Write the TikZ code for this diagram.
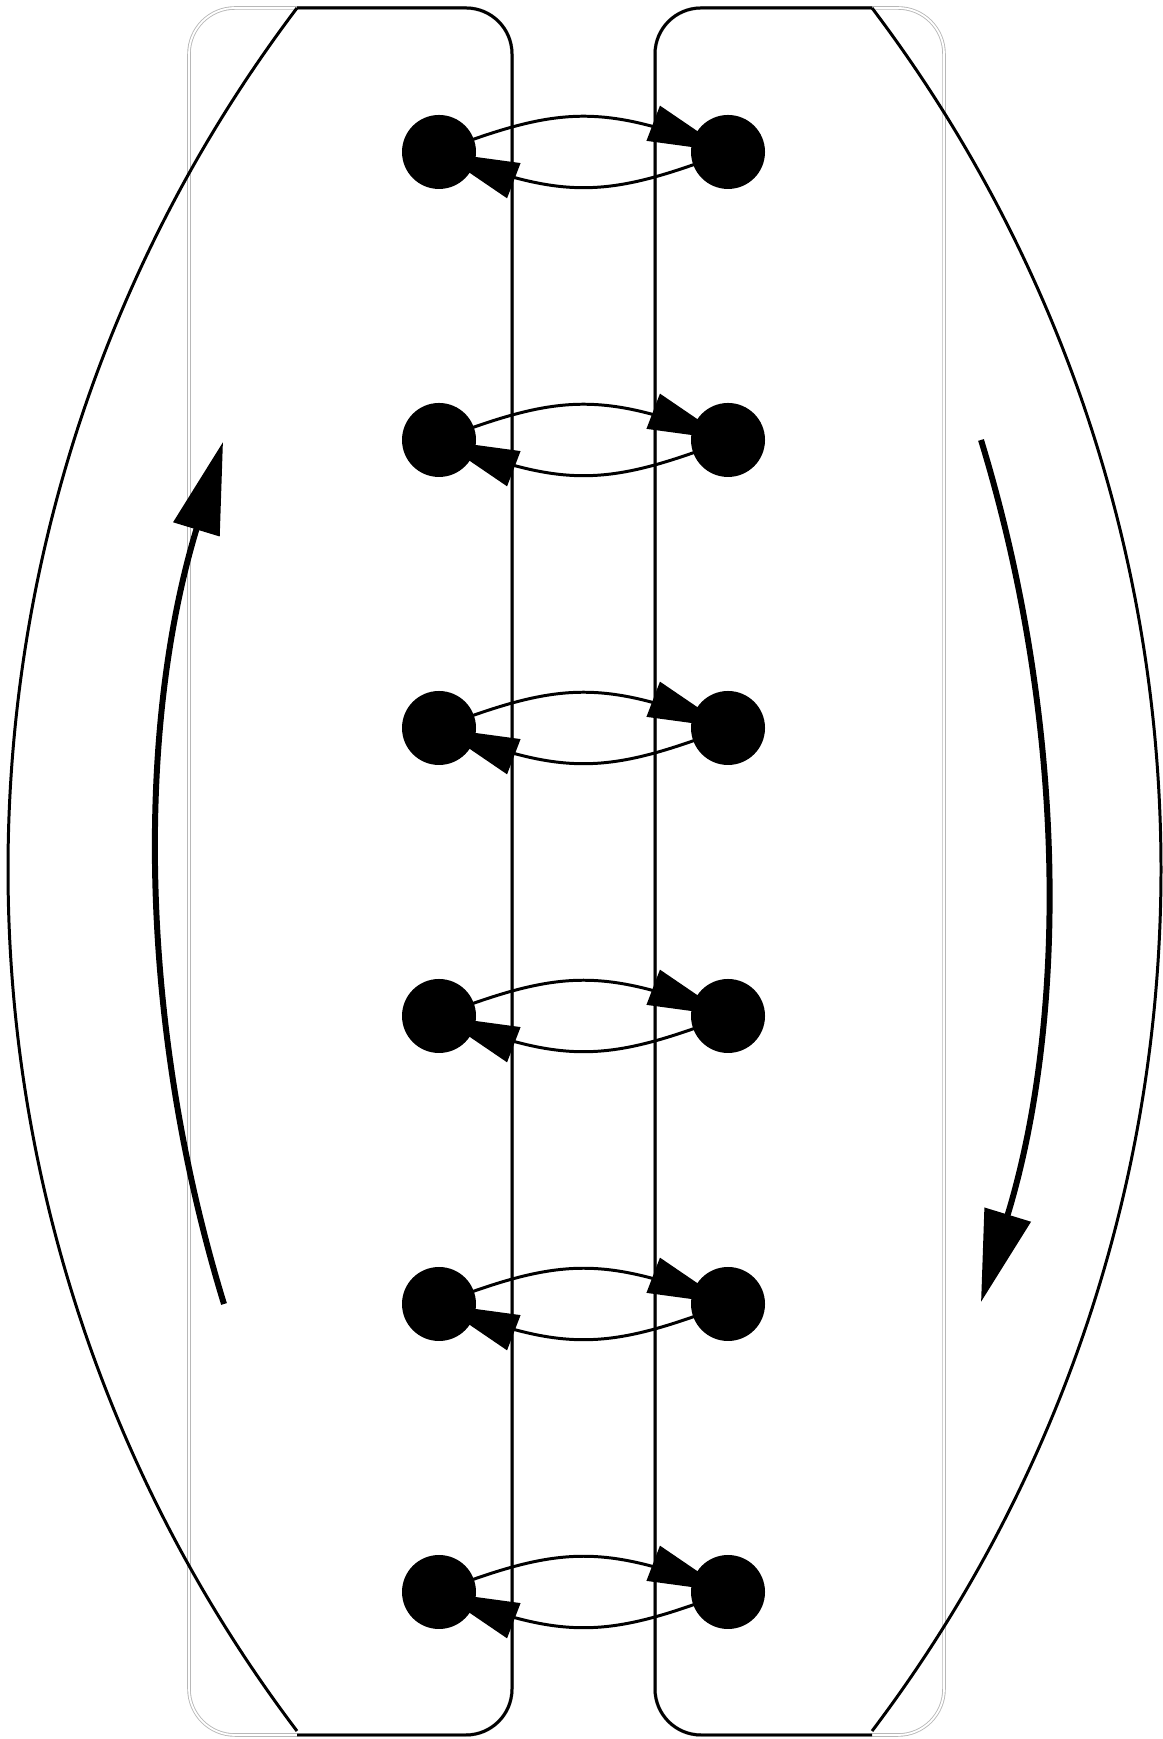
\documentclass[tikz,border=0pt]{standalone}
\usetikzlibrary{arrows.meta,decorations.markings}
\definecolor{rimgray}{gray}{0.72}

\tikzset{
  dot/.style={circle,fill=black,inner sep=0pt,minimum size=7.4mm},
  hop/.style={line width=0.85pt,looseness=1.18,postaction=decorate,
    decoration={markings,mark=at position 1 with {\arrow{Triangle[length=22.8pt,width=10.5pt]}}}},
  spin/.style={-{Triangle[length=26pt,width=13.4pt]},line width=1.7pt,looseness=0.88},
  rim/.style={draw=rimgray,double,line width=0.25pt,double distance=0.5pt,rounded corners=4.6mm},
  body/.style={line width=0.85pt,rounded corners=4.6mm}
}

\begin{document}
\begin{tikzpicture}
  \useasboundingbox (0,0) rectangle (11.62,17.39);
  % faint outer boxes
  \draw[rim] (1.89,0.04) rectangle (5.12,17.31);
  \draw[rim] (6.55,0.04) rectangle (9.44,17.31);
  % the two bodies, each closed by a wide circular arc
  \draw[body] (2.97,17.31) -- (5.12,17.31) -- (5.12,0.04) -- (2.97,0.04);
  \draw[line width=0.85pt] (2.97,17.31) arc[start angle=142.91,end angle=217.09,radius=14.286];
  \draw[body] (8.72,17.31) -- (6.55,17.31) -- (6.55,0.04) -- (8.72,0.04);
  \draw[line width=0.85pt] (8.72,17.31) arc[start angle=37.09,end angle=-37.09,radius=14.286];
  % pairs of dots with arrows both ways
  \foreach \i/\y in {1/15.87,2/12.99,3/10.11,4/7.23,5/4.35,6/1.47} {
    \node[dot] (l\i) at (4.39,\y) {};
    \node[dot] (r\i) at (7.28,\y) {};
    \draw[hop] (l\i.center) to[out=21,in=159] (r\i.center);
    \draw[hop] (r\i.center) to[out=201,in=-21] (l\i.center);
  }
  % circulation arrows
  \coordinate (upfrom) at (2.24,4.35);
  \coordinate (upto) at (2.23,12.97);
  \coordinate (downfrom) at (9.81,12.99);
  \coordinate (downto) at (9.81,4.37);
  \draw[spin] (upfrom) to[bend left=17] (upto);
  \draw[spin] (downfrom) to[bend left=17] (downto);
\end{tikzpicture}
\end{document}
